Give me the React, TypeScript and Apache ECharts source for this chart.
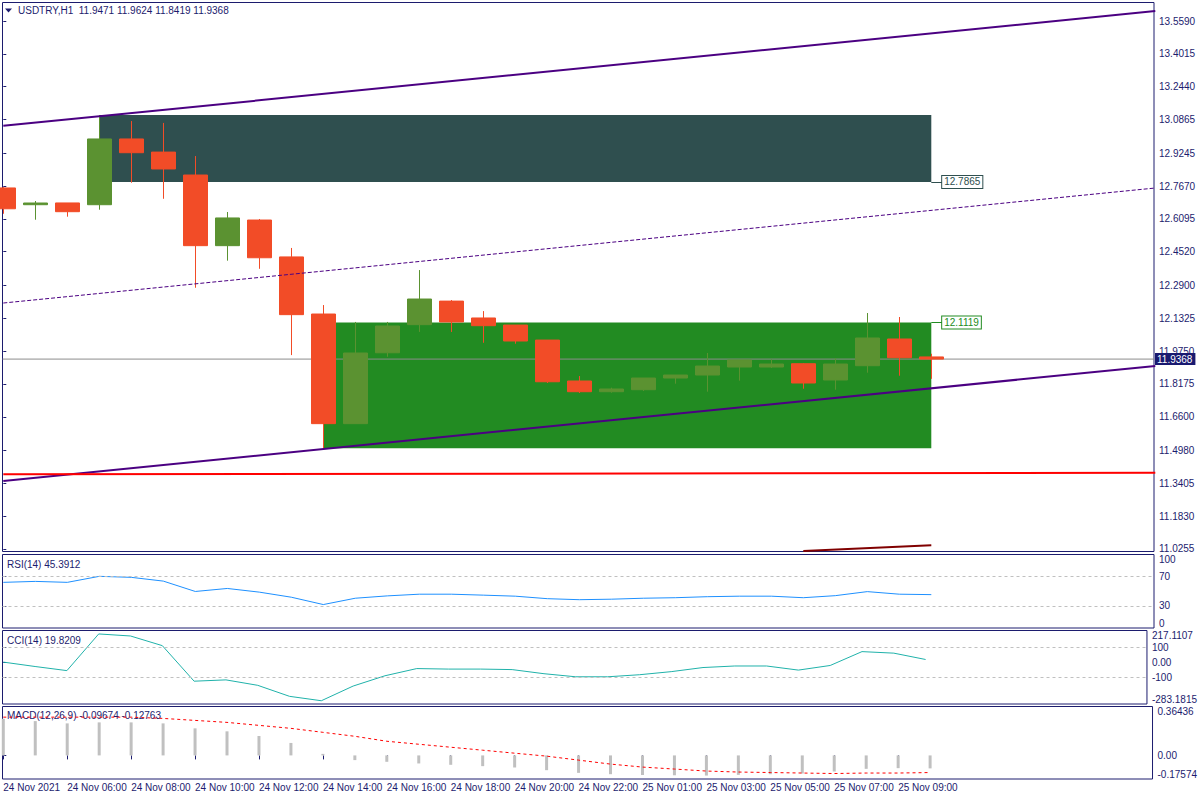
import React, { useEffect, useRef } from 'react';
import * as echarts from 'echarts';

const NAVY = '#1c1c6e';
const FONT = 'Liberation Sans, Arial, sans-serif';
const UP = '#5B9231';
const DOWN = '#F24C27';

// ---------- data ----------
const barTimes = [
  '24 Nov 04:00', '24 Nov 05:00', '24 Nov 06:00', '24 Nov 07:00', '24 Nov 08:00', '24 Nov 09:00',
  '24 Nov 10:00', '24 Nov 11:00', '24 Nov 12:00', '24 Nov 13:00', '24 Nov 14:00', '24 Nov 15:00',
  '24 Nov 16:00', '24 Nov 17:00', '24 Nov 18:00', '24 Nov 19:00', '24 Nov 20:00', '24 Nov 21:00',
  '24 Nov 22:00', '24 Nov 23:00', '25 Nov 01:00', '25 Nov 02:00', '25 Nov 03:00', '25 Nov 04:00',
  '25 Nov 05:00', '25 Nov 06:00', '25 Nov 07:00', '25 Nov 08:00', '25 Nov 09:00', '25 Nov 10:00',
];
const openP = [12.758, 12.6775, 12.686, 12.6775, 12.993, 12.930, 12.820, 12.481, 12.604, 12.427, 12.153, 11.627, 11.967, 12.102, 12.215, 12.134, 12.100, 12.028, 11.8316, 11.7802, 11.7898, 11.8459, 11.8603, 11.8987, 11.8987, 11.9146, 11.8364, 11.905, 12.0331, 11.9471];
const highP = [12.763, 12.6953, 12.686, 13.108, 13.079, 13.070, 12.911, 12.6425, 12.609, 12.470, 12.196, 12.115, 12.115, 12.364, 12.220, 12.167, 12.100, 12.028, 11.8555, 11.7995, 11.8459, 11.8603, 11.9659, 11.9323, 11.9357, 11.9179, 11.9405, 12.1578, 12.1387, 11.9624];
const lowP = [12.634, 12.6055, 12.620, 12.6535, 12.783, 12.706, 12.279, 12.409, 12.370, 11.956, 11.5086, 11.627, 11.948, 12.067, 12.067, 12.015, 12.0105, 11.822, 11.774, 11.7754, 11.7836, 11.8186, 11.7802, 11.833, 11.8939, 11.7946, 11.7898, 11.8714, 11.857, 11.8419];
const closeP = [12.658, 12.6857, 12.644, 12.993, 12.927, 12.849, 12.481, 12.614, 12.423, 12.150, 11.627, 11.966, 12.0955, 12.225, 12.115, 12.097, 12.0235, 11.828, 11.7802, 11.7932, 11.8459, 11.8603, 11.9035, 11.9323, 11.9131, 11.822, 11.9131, 12.0379, 11.9434, 11.9368];

const rsiVals = [62.1, 63.4, 62.1, 70.3, 68.9, 63.8, 49.7, 53.8, 48.8, 41.9, 31.9, 40.5, 43.7, 46.0, 46.0, 44.7, 43.3, 39.9, 38.5, 39.2, 40.5, 41.2, 42.6, 43.3, 43.3, 41.2, 44.0, 49.5, 46.0, 45.3912];
const cciVals = [2, -28, -56, 193.7, 179.7, 114, -128, -119, -156, -231, -261, -161, -91, -42, -45.5, -45.5, -49, -77, -98, -98, -84, -63, -35, -24.5, -24.5, -52.4, -21, 73.4, 62.9, 19.8209];
const macdMain = [0.2734, 0.2556, 0.2386, 0.246, 0.246, 0.2386, 0.2016, 0.1794, 0.1446, 0.0929, 0.0115, -0.035, -0.0477, -0.06, -0.07, -0.08, -0.09, -0.11, -0.13, -0.14, -0.146, -0.148, -0.15, -0.145, -0.14, -0.135, -0.12, -0.10, -0.095, -0.09674];
const macdSignal = [0.285, 0.285, 0.285, 0.285, 0.285, 0.2756, 0.2608, 0.246, 0.2238, 0.2016, 0.172, 0.1424, 0.1054, 0.0832, 0.061, 0.0388, 0.0166, -0.0055, -0.0351, -0.0647, -0.0869, -0.1017, -0.1165, -0.1239, -0.1276, -0.1313, -0.135, -0.1313, -0.1313, -0.12763];

const priceTickLabels = ['13.5590', '13.4015', '13.2440', '13.0865', '12.9245', '12.7670', '12.6095', '12.4520', '12.2900', '12.1325', '11.9750', '11.8175', '11.6600', '11.4980', '11.3405', '11.1830', '11.0255'];
const xTickIdx = [0, 2, 4, 6, 8, 10, 12, 14, 16, 18, 20, 22, 24, 26, 28];
const xTickLabels = ['24 Nov 2021', '24 Nov 06:00', '24 Nov 08:00', '24 Nov 10:00', '24 Nov 12:00', '24 Nov 14:00', '24 Nov 16:00', '24 Nov 18:00', '24 Nov 20:00', '24 Nov 22:00', '25 Nov 01:00', '25 Nov 03:00', '25 Nov 05:00', '25 Nov 07:00', '25 Nov 09:00'];
const rsiTickLabels = ['0', '30', '70', '100'];
const cciTickLabels = ['-283.1815', '-100', '0.00', '100', '217.1107'];
const macdTickLabels = ['-0.17574', '0.00', '0.36436'];

// drawn objects: [x index, price] endpoints
const upperChannel = [[0, 13.056], [36, 13.607]];
const midChannel = [[0, 12.2058], [36, 12.7577]];
const lowerChannel = [[0, 11.352], [36, 11.904]];
const supportLine = [[0, 11.384], [36, 11.391]];
const maroonLine = [[25, 11.016], [29, 11.044]];
const darkZone = { from: 3, to: 29, low: 12.7865, high: 13.108 };
const greenZone = { from: 10, to: 29, low: 11.5086, high: 12.1119 };

// ---------- layout helpers ----------
const LEFT = 2.5;
const RIGHT_EDGE = 1154;
const PX_PER_BAR = 32;
const X_MIN = -0.025;
const X_MAX = X_MIN + (RIGHT_EDGE - LEFT) / PX_PER_BAR;

const labelFrom = (labels: string[]) => (v: number) => {
  const i = labels.findIndex((l) => Math.abs(Number(l) - v) < 1e-6);
  return i >= 0 ? labels[i] : '';
};

const baseText = { color: NAVY, fontSize: 10, fontFamily: FONT };

function buildOption(): any {
  const grids = [
    { top: 2.5, height: 549 },
    { top: 554.5, height: 73.5 },
    { top: 630.5, height: 73.5 },
    { top: 706.5, height: 72.5 },
  ].map((g) => ({
    left: LEFT,
    right: 1200 - RIGHT_EDGE,
    top: g.top,
    height: g.height,
    show: true,
    borderColor: NAVY,
    borderWidth: 1,
    containLabel: false,
  }));

  const xAxes = [0, 1, 2, 3].map((gi) => ({
    type: 'value',
    gridIndex: gi,
    min: X_MIN,
    max: X_MAX,
    show: gi === 3,
    axisLine: { show: false },
    splitLine: { show: false },
    axisTick: {
      show: gi === 3,
      customValues: xTickIdx,
      length: 4,
      lineStyle: { color: NAVY },
    },
    axisLabel: {
      show: gi === 3,
      customValues: xTickIdx,
      formatter: (v: number) => {
        const i = xTickIdx.indexOf(Math.round(v));
        return i >= 0 ? xTickLabels[i] : '';
      },
      align: 'left',
      margin: 3,
      ...baseText,
    },
  }));

  const priceTicks = priceTickLabels.map(Number);
  const yAxes = [
    {
      gridIndex: 0,
      min: 11.0135,
      max: 13.6478,
      tickVals: priceTicks,
      labelVals: priceTicks,
      labels: priceTickLabels,
      edge: false,
    },
    {
      gridIndex: 1,
      min: 0,
      max: 100,
      tickVals: [30, 70],
      labelVals: rsiTickLabels.map(Number),
      labels: rsiTickLabels,
      edge: true,
    },
    {
      gridIndex: 2,
      min: -283.1815,
      max: 217.1107,
      tickVals: [-100, 0, 100],
      labelVals: cciTickLabels.map(Number),
      labels: cciTickLabels,
      edge: true,
    },
    {
      gridIndex: 3,
      min: -0.17574,
      max: 0.36436,
      tickVals: [0],
      labelVals: macdTickLabels.map(Number),
      labels: macdTickLabels,
      edge: true,
    },
  ].map((a) => ({
    type: 'value',
    gridIndex: a.gridIndex,
    position: 'right',
    min: a.min,
    max: a.max,
    axisLine: { show: false },
    splitLine: { show: false },
    axisTick: { show: true, customValues: a.tickVals, length: 3, lineStyle: { color: NAVY } },
    axisLabel: {
      customValues: a.labelVals,
      formatter: labelFrom(a.labels),
      margin: 5,
      ...(a.edge ? { verticalAlignMinLabel: 'bottom', verticalAlignMaxLabel: 'top' } : {}),
      ...baseText,
    },
  }));

  const lastClose = closeP[closeP.length - 1];

  const lineSeries = (data: number[][], color: string, width: number, type: any, z: number) => ({
    type: 'line',
    xAxisIndex: 0,
    yAxisIndex: 0,
    data,
    symbol: 'none',
    silent: true,
    z,
    lineStyle: { color, width, type },
  });

  const zoneLabel = (zone: { to: number }, price: number, color: string) => [
    {
      coord: [zone.to, price],
      lineStyle: { color, width: 1, type: 'solid' },
      label: {
        show: true,
        position: 'end',
        distance: 0,
        formatter: price.toFixed(4),
        color,
        borderColor: color,
        borderWidth: 1,
        backgroundColor: '#ffffff',
        padding: [1, 2, 0, 2],
        lineHeight: 11,
        fontSize: 10,
        fontFamily: FONT,
      },
    },
    { coord: [zone.to + 0.34, price] },
  ];

  const series: any[] = [
    {
      type: 'line',
      name: 'zones',
      xAxisIndex: 0,
      yAxisIndex: 0,
      data: [],
      silent: true,
      z: 1,
      markArea: {
        silent: true,
        z: 1,
        label: { show: false },
        data: [
          [
            { coord: [darkZone.from, darkZone.high], itemStyle: { color: '#2F4F4F', opacity: 1 } },
            { coord: [darkZone.to, darkZone.low] },
          ],
          [
            { coord: [greenZone.from, greenZone.high], itemStyle: { color: '#228B22', opacity: 1 } },
            { coord: [greenZone.to, greenZone.low] },
          ],
        ],
      },
      markLine: {
        silent: true,
        symbol: ['none', 'none'],
        data: [
          zoneLabel(darkZone, darkZone.low, '#2F4F4F'),
          zoneLabel(greenZone, greenZone.high, '#228B22'),
        ],
      },
    },
    {
      ...lineSeries([[X_MIN, lastClose], [X_MAX, lastClose]], '#8c8c8c', 1, 'solid', 2),
      markLine: {
        silent: true,
        symbol: ['none', 'none'],
        lineStyle: { color: '#8c8c8c', width: 1, type: 'solid' },
        data: [
          [
            {
              coord: [X_MAX - 0.01, lastClose],
              label: {
                show: true,
                position: 'end',
                distance: 1,
                formatter: lastClose.toFixed(4),
                color: '#ffffff',
                backgroundColor: '#191970',
                padding: [1, 3, 0, 2],
                lineHeight: 11,
                fontSize: 10,
                fontFamily: FONT,
              },
            },
            { coord: [X_MAX, lastClose] },
          ],
        ],
      },
    },
    {
      type: 'candlestick',
      xAxisIndex: 0,
      yAxisIndex: 0,
      z: 3,
      silent: true,
      barWidth: 24,
      clip: true,
      itemStyle: {
        color: UP,
        color0: DOWN,
        borderColor: UP,
        borderColor0: DOWN,
        borderWidth: 1,
      },
      data: openP.map((o, i) => [i, o, closeP[i], lowP[i], highP[i]]),
    },
    lineSeries(upperChannel, '#4B0082', 2, 'solid', 4),
    lineSeries(lowerChannel, '#4B0082', 2, 'solid', 4),
    lineSeries(midChannel, '#4B0082', 1, [4, 2], 4),
    lineSeries(supportLine, '#FF0000', 2, 'solid', 4),
    lineSeries(maroonLine, '#800000', 2, 'solid', 4),
    {
      type: 'line',
      xAxisIndex: 1,
      yAxisIndex: 1,
      data: rsiVals.map((v, i) => [i, v]),
      symbol: 'none',
      silent: true,
      lineStyle: { color: '#1E90FF', width: 1 },
      markLine: {
        silent: true,
        symbol: ['none', 'none'],
        label: { show: false },
        lineStyle: { color: '#c0c0c0', width: 1, type: [3, 3] },
        data: [{ yAxis: 70 }, { yAxis: 30 }],
      },
    },
    {
      type: 'line',
      xAxisIndex: 2,
      yAxisIndex: 2,
      data: cciVals.map((v, i) => [i, v]),
      symbol: 'none',
      silent: true,
      lineStyle: { color: '#20B2AA', width: 1 },
      markLine: {
        silent: true,
        symbol: ['none', 'none'],
        label: { show: false },
        lineStyle: { color: '#c0c0c0', width: 1, type: [3, 3] },
        data: [{ yAxis: 100 }, { yAxis: -100 }],
      },
    },
    {
      type: 'bar',
      xAxisIndex: 3,
      yAxisIndex: 3,
      data: macdMain.map((v, i) => [i, v]),
      barWidth: 3,
      silent: true,
      itemStyle: { color: '#C0C0C0' },
    },
    {
      type: 'line',
      xAxisIndex: 3,
      yAxisIndex: 3,
      data: macdSignal.map((v, i) => [i, v]),
      symbol: 'none',
      silent: true,
      lineStyle: { color: '#FF0000', width: 1, type: [3, 3] },
    },
  ];

  const titleText = (text: string, x: number, y: number) => ({
    type: 'text',
    x,
    y,
    silent: true,
    style: { text, fill: NAVY, font: `10px ${FONT}`, verticalAlign: 'middle', align: 'left' },
  });

  const o = openP.length - 1;
  const graphic = [
    {
      type: 'polygon',
      silent: true,
      shape: { points: [[5, 8.5], [12, 8.5], [8.5, 12.5]] },
      style: { fill: NAVY },
    },
    titleText(
      `USDTRY,H1  ${openP[o].toFixed(4)} ${highP[o].toFixed(4)} ${lowP[o].toFixed(4)} ${closeP[o].toFixed(4)}`,
      18,
      10.5,
    ),
    titleText(`RSI(14) ${rsiVals[o].toFixed(4)}`, 7, 564),
    titleText(`CCI(14) ${cciVals[o].toFixed(4)}`, 7, 640),
    titleText(`MACD(12,26,9) ${macdMain[o].toFixed(5)} ${macdSignal[o].toFixed(5)}`, 7, 715.5),
  ];

  return {
    animation: false,
    backgroundColor: '#ffffff',
    grid: grids,
    xAxis: xAxes,
    yAxis: yAxes,
    series,
    graphic,
  };
}

export default function App() {
  const ref = useRef<HTMLDivElement>(null);
  useEffect(() => {
    if (!ref.current) return;
    const chart = echarts.init(ref.current, null, { renderer: 'svg' });
    chart.setOption(buildOption());
    return () => {
      chart.dispose();
    };
  }, []);
  return (
    <div
      ref={ref}
      data-bars={barTimes.length}
      style={{ position: 'fixed', left: 0, top: 0, width: 1200, height: 800, background: '#fff' }}
    />
  );
}
